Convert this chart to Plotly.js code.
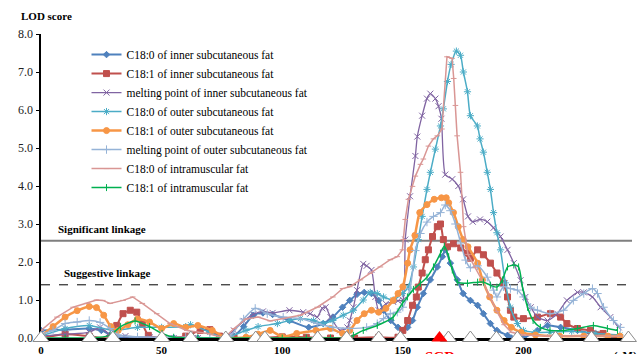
<!DOCTYPE html>
<html><head><meta charset="utf-8">
<script src="https://cdn.plot.ly/plotly-3.0.1.min.js"></script>
<style>html,body{margin:0;padding:0;background:#fff}#chart{width:641px;height:354px}</style>
</head><body><div id="chart"></div>
<script>
// ---- data (cM positions and LOD scores) ----
const seriesNames = [
  "C18:0 of inner subcutaneous fat",
  "C18:1 of inner subcutaneous fat",
  "melting point of inner subcutaneous fat",
  "C18:0 of outer subcutaneous fat",
  "C18:1 of outer subcutaneous fat",
  "melting point of outer subcutaneous fat",
  "C18:0 of intramuscular fat",
  "C18:1 of intramuscular fat"
];

const c180InnerX = [0,10,20,25,30,35,45,55,65,76,80,84,88,92,96,103,111,117,121,125,128,131,134,137,140,142,145,148,150,152,154,156,158.5,161.4,164.3,166.4,167.6,169.7,172.6,175,178,181,183.4,186.3,189,193.4,195,200,205.8,210,215.4,222.4,227.8,236,240];
const c180InnerY = [0.2,0.22,0.25,0.2,0.05,0.0,0.0,0.0,0.0,0.0,0.05,0.3,0.6,0.66,0.62,0.46,0.28,0.38,0.55,0.81,0.99,1.15,1.2,1.17,0.99,0.73,0.46,0.28,0.2,0.28,0.46,0.81,1.17,1.53,1.87,2.14,2.32,1.97,1.53,1.17,0.99,0.86,0.64,0.38,0.2,0.07,0.0,0.0,0.2,0.33,0.28,0.2,0.12,0.02,0.0];

const c181InnerX = [0,10,20,28.6,31.4,34,37,39.7,42,44.5,50,60,66,70,74,80,90,100,110,120,130,140,148,150,152,154,155.6,156.4,158,159.3,160.6,162.3,164.3,165.6,166.8,168.5,171,174,176.8,178,181,183.4,186.3,189,191.7,193.4,194.6,196,200,205.8,211.2,215.4,218,222.4,227.8,233,239];
const c181InnerY = [0.0,0.1,0.05,0.0,0.33,0.64,0.73,0.68,0.38,0.07,0.0,0.05,0.2,0.22,0.05,0.0,0.0,0.03,0.02,0.0,0.0,0.02,0.02,0.2,0.46,0.86,1.08,1.34,1.71,2.06,2.32,2.67,2.93,3.0,2.59,2.4,2.48,2.37,2.23,2.1,2.32,2.19,1.97,1.71,1.44,1.08,0.73,0.55,0.51,0.55,0.64,0.55,0.38,0.25,0.2,0.12,0.0];

const mpInnerX = [0,10,20,24.5,28,35,45,55,65,76,80,84,88,92,96,103,108.7,111.6,114.5,116.6,118,120,124,127,128,129.5,131,133.6,135,137,138.6,140,143,146,148,150,151,153,155.2,156,158,160,161.4,163.5,164.8,166,167.6,170.5,173,175,177,179,182,185,187.6,190.5,193.4,196,198.8,200.8,203,205.8,210,214,218,222.4,225,228.6,232,236,239.5];
const mpInnerY = [0.05,0.1,0.15,0.28,0.12,0.05,0.02,0.0,0.0,0.0,0.2,0.45,0.62,0.7,0.66,0.73,0.68,0.64,0.55,0.78,0.81,0.55,0.2,0.28,0.46,0.81,1.26,1.95,1.9,1.79,1.08,0.73,0.9,0.95,0.98,1.0,2.59,3.73,4.79,5.3,5.85,6.3,6.43,6.3,6.1,5.77,4.3,4.18,4.0,3.65,3.2,3.06,3.12,3.06,2.9,2.67,2.32,1.97,1.52,1.08,0.81,0.55,0.46,0.64,0.99,1.2,1.2,1.08,0.81,0.55,0.28];

const c180OuterX = [0,10,20,30,40,50,60,62,70,76,85,90,98,103,107.5,113,117,121,125.3,129.5,133.6,136.5,139.4,142,146,149.8,152.3,154.4,156.4,158,160,161.4,163.5,165.6,166.8,168.5,170,172.2,173.9,175.1,176.8,178,180.9,182,183.4,185,186.3,187.6,189,190.5,192.5,194.6,197.5,200,205,211,220,230,240];
const c180OuterY = [0.05,0.25,0.33,0.2,0.28,0.28,0.3,0.35,0.15,0.0,0.2,0.3,0.38,0.46,0.51,0.46,0.38,0.46,0.6,0.73,1.0,1.2,1.17,1.08,1.0,1.17,1.34,1.87,2.59,3.2,3.91,4.36,4.97,5.58,6.03,6.75,7.2,7.55,7.44,7.0,6.48,5.85,5.58,5.24,4.89,4.36,3.91,3.3,2.77,2.32,1.45,0.81,0.38,0.2,0.15,0.15,0.18,0.12,0.08];

const c181OuterX = [0,5,10,15,20,23,26,29,32,36,40,45,50,55,60,65,71,77,85,90,95,100,106,114,120,125,128,131,134,137,140,143,146,148,150,152,153,155,157,160,163,166,168,169,171,173,175,177,181,183,186,189,192,195,199,205,215,225,235,240];
const c181OuterY = [0.05,0.3,0.55,0.72,0.83,0.8,0.6,0.3,0.2,0.35,0.5,0.42,0.25,0.38,0.28,0.33,0.2,0.0,0.02,0.1,0.2,0.03,0.12,0.2,0.25,0.12,0.2,0.46,0.64,0.73,0.68,0.78,0.99,1.17,1.35,1.97,2.32,2.7,3.3,3.51,3.65,3.69,3.69,3.56,3.3,2.93,2.59,2.4,1.97,1.53,1.08,0.73,0.46,0.28,0.15,0.08,0.05,0.05,0.05,0.05];

const mpOuterX = [0,5,10,15,20,24.5,28.6,32,40,50,60,70,76,78.4,84,88.8,93.8,100.4,107.5,114.5,121,128,135,139.4,142,144.8,147.7,150,153,155.2,157.3,160,162.7,165.6,167.6,169.7,171.8,174,176,178,181,185,187.6,189,191.7,194.6,197.5,200,203,205.8,211,216.6,220.7,225,228.6,230.7,233.2,237.3,240.2];
const mpOuterY = [0.1,0.2,0.38,0.42,0.46,0.41,0.25,0.08,0.03,0.02,0.02,0.0,0.0,0.05,0.5,0.78,0.64,0.55,0.51,0.38,0.28,0.25,0.28,0.38,0.51,0.64,0.68,0.81,1.3,2.3,2.75,3.05,3.2,3.3,3.5,3.35,3.0,2.5,2.05,1.85,1.9,1.6,1.26,1.08,1.35,1.3,1.26,1.08,0.81,0.73,0.64,0.73,0.99,1.17,1.3,1.17,0.81,0.46,0.28];

const c180ImfX = [0,6.6,13.3,19,23,25.6,28.6,34,38,42,48,53.5,60.5,69,76,80,85,90,95,100.4,107.5,114.5,121,125,128,132.4,136.5,140.7,144.8,147.7,149.8,150.2,151,152.3,154,155.2,157.3,158.5,160.6,162.7,164.3,166.2,168.3,170.4,171.1,171.8,172.5,173.9,175.2,177,180,183,186,189,192,195,200,210,220,230,240];
const c180ImfY = [0.2,0.55,0.81,0.91,1.0,0.99,0.91,0.99,1.08,0.91,0.64,0.38,0.2,0.12,0.0,0.25,0.5,0.55,0.45,0.51,0.6,0.81,1.08,1.3,1.35,1.53,1.7,1.87,2.06,2.14,2.32,2.59,3.12,3.65,3.99,4.26,4.57,4.71,5.05,5.24,5.32,5.5,7.4,7.36,6.83,6.12,5.32,4.36,2.93,2.2,1.85,1.5,1.1,0.7,0.35,0.15,0.08,0.05,0.05,0.05,0.05];

const c181ImfX = [0,10,20,28.6,33,39,45,50.2,55,65,76,90,100,110,120,127,129.5,133.6,139.4,146,149.8,151.9,154.4,157.3,160,162.7,165.6,167.2,169,170.5,172.6,176.8,181,183.4,186.3,189,191.3,193.4,196,198,199.6,201.7,204,207,211,216.6,222.4,229,234.8,239];
const c181ImfY = [0.0,0.0,0.0,0.07,0.3,0.45,0.3,0.12,0.02,0.0,0.0,0.0,0.0,0.0,0.0,0.0,0.07,0.2,0.33,0.55,0.91,1.08,1.28,1.44,1.6,1.87,2.23,2.42,2.14,1.79,1.47,1.44,1.47,1.47,1.39,1.34,1.53,1.87,1.92,1.87,1.34,0.81,0.46,0.28,0.2,0.2,0.25,0.33,0.25,0.2];

// genetic markers on the chromosome (cM) and the SCD gene position
const markerPos = [0,20.3,29.8,50.1,62.1,76.6,89.0,92.8,114.7,126.7,140,149,168.9,178,188.8,197.5,213.3,228.2,243.5];
const markerLOD = markerPos.map(() => 0);
const scdPos = [165.2];
const scdLOD = [0];

const significantLOD = 2.56;
const suggestiveLOD = 1.40;
const xTickVals = [0,50,100,150,200];
const yTickVals = [0,1,2,3,4,5,6,7,8];

// ---- styling ----
const seriesX = [c180InnerX,c181InnerX,mpInnerX,c180OuterX,c181OuterX,mpOuterX,c180ImfX,c181ImfX];
const seriesY = [c180InnerY,c181InnerY,mpInnerY,c180OuterY,c181OuterY,mpOuterY,c180ImfY,c181ImfY];
const colors = ["#4F81BD","#C0504D","#8064A2","#4BACC6","#F79646","#95B3D7","#D99694","#00B050"];
const symbols = ["diamond","square","x-thin-open","asterisk-open","circle","cross-thin-open","line-ew-open","line-ns-open"];
const msizes = [5,6,6,6,6,6,4,5];
const lwidths = [2,2,1.3,1.5,2.5,1.5,1.5,1.5];
const shapes = ["spline","spline","spline","spline","spline","spline","linear","spline"];

const traces = seriesNames.map((nm,i) => ({
  type:"scatter", mode:"lines+markers", name:nm,
  x:seriesX[i], y:seriesY[i],
  line:{color:colors[i], width:lwidths[i], shape:shapes[i], smoothing:0.6},
  marker:{symbol:symbols[i], size:msizes[i], color:colors[i], line:{color:colors[i], width:1}}
}));

traces.push({
  type:"scatter", mode:"markers", x:markerPos, y:markerLOD, showlegend:false, cliponaxis:false,
  marker:{symbol:"triangle-up", size:14, color:"#ffffff", line:{color:"#8c8c8c", width:1}}
});
traces.push({
  type:"scatter", mode:"markers", x:scdPos, y:scdLOD, showlegend:false, cliponaxis:false,
  marker:{symbol:"triangle-up", size:14, color:"#ff0000", line:{color:"#ff0000", width:0}}
});

const serif = "Liberation Serif, Times New Roman, serif";
const layout = {
  width:641, height:354,
  margin:{l:41, r:9, t:34, b:16},
  paper_bgcolor:"#fff", plot_bgcolor:"#fff",
  showlegend:true,
  legend:{x:0.077, xanchor:"left", y:0.98, yanchor:"top", bgcolor:"rgba(0,0,0,0)",
          font:{family:serif, size:11.5, color:"#000"}, itemwidth:30},
  xaxis:{range:[0,245], tickvals:xTickVals, ticktext:xTickVals.map(String), showgrid:false, zeroline:false,
         showline:true, linecolor:"#000", linewidth:2.5, ticks:"", layer:"below traces",
         tickfont:{family:serif, size:11, color:"#000", weight:"bold"}, ticklabelstandoff:0},
  yaxis:{range:[0,8], tickvals:yTickVals, tickformat:".1f", showgrid:false, zeroline:false,
         showline:true, linecolor:"#000", linewidth:2.5, ticks:"outside", ticklen:3, tickcolor:"#000",
         layer:"below traces", tickfont:{family:serif, size:12, color:"#222"}},
  shapes:[
    {type:"line", xref:"paper", x0:0, x1:1, yref:"y", y0:significantLOD, y1:significantLOD, line:{color:"#7f7f7f", width:2}, layer:"below"},
    {type:"line", xref:"paper", x0:0, x1:1, yref:"y", y0:suggestiveLOD, y1:suggestiveLOD, line:{color:"#000", width:1, dash:"dash"}, layer:"below"}
  ],
  annotations:[
    {text:"<b>LOD score</b>", xref:"paper", yref:"paper", x:0.01, y:1.059, xanchor:"center", yanchor:"middle", showarrow:false, font:{family:serif, size:11, color:"#000"}},
    {text:"<b>Significant linkage</b>", xref:"x", yref:"y", x:6.2, y:2.86, xanchor:"left", yanchor:"middle", showarrow:false, font:{family:serif, size:11, color:"#000"}},
    {text:"<b>Suggestive linkage</b>", xref:"x", yref:"y", x:8.7, y:1.7, xanchor:"left", yanchor:"middle", showarrow:false, font:{family:serif, size:11, color:"#000"}},
    {text:"<b>SCD</b>", xref:"x", yref:"y", x:scdPos[0], y:0, xanchor:"center", yanchor:"top", yshift:-9, showarrow:false, font:{family:serif, size:15, color:"#ff0000"}},
    {text:"<b>(cM)</b>", xref:"paper", yref:"y", x:0.966, y:0, xanchor:"left", yanchor:"top", yshift:-9, showarrow:false, font:{family:serif, size:11, color:"#000"}}
  ]
};

Plotly.newPlot("chart", traces, layout, {displayModeBar:false, staticPlot:true});
</script></body></html>
